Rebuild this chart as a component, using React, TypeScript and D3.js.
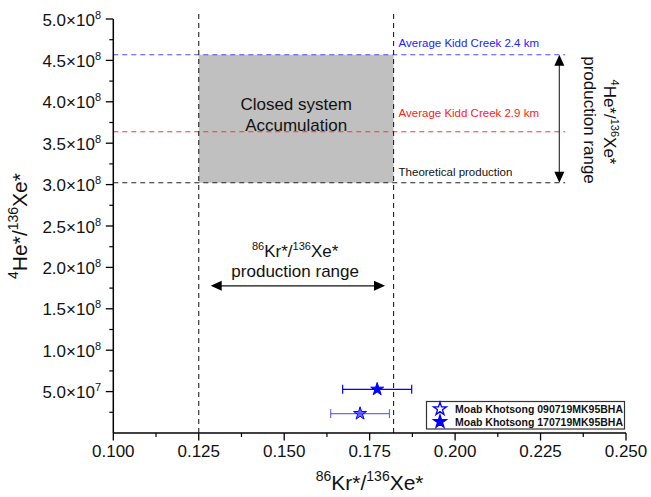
import React from 'react';
import * as d3 from 'd3';

// chart values
const xTicks = [0.1, 0.125, 0.15, 0.175, 0.2, 0.225, 0.25];
const yTicks = [5e7, 1e8, 1.5e8, 2e8, 2.5e8, 3e8, 3.5e8, 4e8, 4.5e8, 5e8];
const sampleNames = ['Moab Khotsong 090719MK95BHA', 'Moab Khotsong 170719MK95BHA'];
const krXe = [0.1722, 0.1772];
const krXeErr = [0.0086, 0.0101];
const heXe = [2.34e7, 5.28e7];

const refValues = [4.568e8, 3.638e8, 3.022e8];
const refLabels = ['Average Kidd Creek 2.4 km', 'Average Kidd Creek 2.9 km', 'Theoretical production'];
const refColors = ['#4a4aff', '#ff3030', '#222'];
const refTextColors = ['#2222ff', '#ff2020', '#111'];
const krRange = [0.125, 0.182];
const krArrow = [0.1285, 0.1795];
const krArrowY = 1.777e8;
const heArrowX = 0.2305;

const W = 651, H = 497;
const margin = { left: 113.3, right: 25, top: 19, bottom: 64 };
const FONT = 'Liberation Sans, Arial, Helvetica, sans-serif';

const x = d3.scaleLinear().domain([0.1, 0.25]).range([margin.left, W - margin.right]);
const y = d3.scaleLinear().domain([0, 5e8]).range([H - margin.bottom, margin.top]);

const starPath = d3.symbol(d3.symbolStar, 52)() as string;

const fmtY = (v: number) => {
  const e = Math.floor(Math.log10(v));
  return { m: (v / Math.pow(10, e)).toFixed(1), e: String(e) };
};

const App = () => {
  const x0 = x.range()[0], x1 = x.range()[1];
  const y0 = y.range()[0];
  const xMinor = d3.range(0.1125, 0.25, 0.025);
  const yMinor = d3.range(2.5e7, 5e8, 5e7);
  const lineTop = y(5.06e8);
  const refEnd = x(0.2322);
  const cx = (x(krRange[0]) + x(krRange[1])) / 2;
  const ya = y(refValues[0]), yb = y(refValues[2]);
  const ax = x(heArrowX);
  const hy = y(krArrowY);
  const hx0 = x(krArrow[0]), hx1 = x(krArrow[1]);
  const labelOffset = [8, 14.4, 6.6];

  return (
    <svg width={W} height={H} style={{ position: 'absolute', left: 0, top: 0, background: '#fff' }}
      fontFamily={FONT}>
      {/* closed system box */}
      <rect x={x(krRange[0])} y={y(refValues[0])} width={x(krRange[1]) - x(krRange[0])}
        height={y(refValues[2]) - y(refValues[0])} fill="#c0c0c0" />

      {/* horizontal reference lines */}
      {refValues.map((v, i) => (
        <g key={i}>
          <line x1={x0} x2={refEnd} y1={y(v)} y2={y(v)} stroke={refColors[i]} strokeWidth={1.1}
            strokeDasharray="5,4" />
          <text x={x(krRange[1]) + 5} y={y(v) - labelOffset[i]} fontSize={11.5} fill={refTextColors[i]}>
            {refLabels[i]}
          </text>
        </g>
      ))}

      {/* vertical range lines */}
      {krRange.map((v, i) => (
        <line key={i} x1={x(v)} x2={x(v)} y1={lineTop} y2={y0} stroke="#222" strokeWidth={1.1}
          strokeDasharray="5,4" />
      ))}

      <text x={cx} y={110} fontSize={17} textAnchor="middle" fill="#111">Closed system</text>
      <text x={cx} y={131} fontSize={17} textAnchor="middle" fill="#111">Accumulation</text>

      {/* Kr/Xe production range */}
      <text x={cx - 1} y={256.7} fontSize={17} textAnchor="middle" fill="#111">
        <tspan fontSize={11} dy={-7}>86</tspan>
        <tspan dy={7}>Kr*/</tspan>
        <tspan fontSize={11} dy={-7}>136</tspan>
        <tspan dy={7}>Xe*</tspan>
      </text>
      <text x={cx - 1} y={276.7} fontSize={17} textAnchor="middle" fill="#111">production range</text>
      <line x1={hx0 + 9} x2={hx1 - 9} y1={hy} y2={hy} stroke="#111" strokeWidth={1.4} />
      <path d={`M${hx0},${hy}L${hx0 + 11},${hy - 5}L${hx0 + 11},${hy + 5}Z`} fill="#000" />
      <path d={`M${hx1},${hy}L${hx1 - 11},${hy - 5}L${hx1 - 11},${hy + 5}Z`} fill="#000" />

      {/* He/Xe production range */}
      <line x1={ax} x2={ax} y1={ya + 9} y2={yb - 9} stroke="#444" strokeWidth={1.3} />
      <path d={`M${ax},${ya}L${ax - 5},${ya + 11}L${ax + 5},${ya + 11}Z`} fill="#000" />
      <path d={`M${ax},${yb}L${ax - 5},${yb - 11}L${ax + 5},${yb - 11}Z`} fill="#000" />
      <text transform={`translate(583.5,120) rotate(90)`} fontSize={17} textAnchor="middle" fill="#111">
        production range
      </text>
      <text transform={`translate(604,122) rotate(90)`} fontSize={17} textAnchor="middle" fill="#111">
        <tspan fontSize={11} dy={-7}>4</tspan>
        <tspan dy={7}>He*/</tspan>
        <tspan fontSize={11} dy={-7}>136</tspan>
        <tspan dy={7}>Xe*</tspan>
      </text>

      {/* data points with error bars */}
      {krXe.map((kv, i) => {
        const col = i === 0 ? '#6a6aff' : '#0000ff';
        const py = y(heXe[i]);
        const e0 = x(kv - krXeErr[i]), e1 = x(kv + krXeErr[i]);
        return (
          <g key={i}>
            <line x1={e0} x2={e1} y1={py} y2={py} stroke={col} strokeWidth={1.2} />
            <line x1={e0} x2={e0} y1={py - 4.5} y2={py + 4.5} stroke={col} strokeWidth={1.2} />
            <line x1={e1} x2={e1} y1={py - 4.5} y2={py + 4.5} stroke={col} strokeWidth={1.2} />
            <path d={starPath} transform={`translate(${x(kv)},${py})`}
              fill={i === 0 ? '#3a3aff' : '#0000ff'} fillOpacity={i === 0 ? 0.75 : 1}
              stroke="#0000ff" strokeWidth={1} />
          </g>
        );
      })}

      {/* legend */}
      <rect x={426.5} y={401.5} width={198} height={27.5} fill="#fff" stroke="#333" strokeWidth={1.2} />
      {sampleNames.map((n, i) => (
        <g key={n}>
          <path d={starPath} transform={`translate(440,${409 + i * 12.7})`}
            fill={i === 0 ? '#fff' : '#0000ff'} stroke="#0000ff" strokeWidth={1.3} />
          <text x={455} y={412.8 + i * 12.7} fontSize={10.5} fontWeight="bold" fill="#111">{n}</text>
        </g>
      ))}

      {/* axes */}
      <line x1={x0} x2={x1} y1={y0} y2={y0} stroke="#000" strokeWidth={1.5} />
      <line x1={x0} x2={x0} y1={y(5e8)} y2={y0} stroke="#000" strokeWidth={1.5} />
      {xTicks.map(t => (
        <g key={t}>
          <line x1={x(t)} x2={x(t)} y1={y0} y2={y0 + 7.5} stroke="#000" strokeWidth={1.3} />
          <text x={x(t)} y={y0 + 24} fontSize={17} textAnchor="middle" fill="#111">{t.toFixed(3)}</text>
        </g>
      ))}
      {xMinor.map(t => (
        <line key={t} x1={x(t)} x2={x(t)} y1={y0} y2={y0 + 4} stroke="#000" strokeWidth={1.2} />
      ))}
      {yTicks.map(t => {
        const f = fmtY(t);
        return (
          <g key={t}>
            <line x1={x0 - 7.5} x2={x0} y1={y(t)} y2={y(t)} stroke="#000" strokeWidth={1.3} />
            <text x={101} y={y(t) + 6.5} fontSize={17} textAnchor="end" fill="#111">
              {f.m}×10<tspan fontSize={11} dy={-7}>{f.e}</tspan>
            </text>
          </g>
        );
      })}
      {yMinor.map(t => (
        <line key={t} x1={x0 - 4} x2={x0} y1={y(t)} y2={y(t)} stroke="#000" strokeWidth={1.2} />
      ))}

      {/* axis titles */}
      <text x={(x0 + x1) / 2} y={490} fontSize={21} textAnchor="middle" fill="#111">
        <tspan fontSize={14} dy={-9}>86</tspan>
        <tspan dy={9}>Kr*/</tspan>
        <tspan fontSize={14} dy={-9}>136</tspan>
        <tspan dy={9}>Xe*</tspan>
      </text>
      <text transform={`translate(27,${(y(0) + y(5e8)) / 2}) rotate(-90)`} fontSize={21} textAnchor="middle"
        fill="#111">
        <tspan fontSize={14} dy={-9}>4</tspan>
        <tspan dy={9}>He*/</tspan>
        <tspan fontSize={14} dy={-9}>136</tspan>
        <tspan dy={9}>Xe*</tspan>
      </text>
    </svg>
  );
};

export default App;
